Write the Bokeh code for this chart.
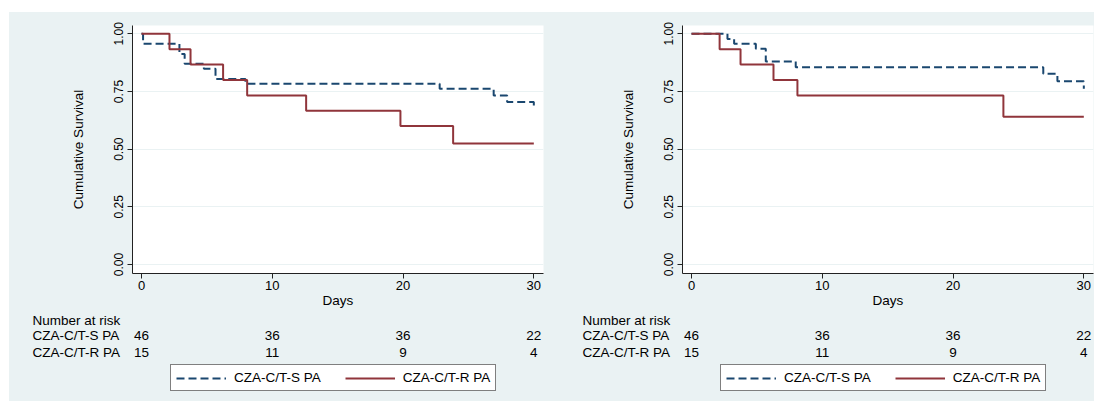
from bokeh.plotting import figure
from bokeh.layouts import row, column
from bokeh.models import Legend, LegendItem, FixedTicker, Range1d
from bokeh.core.properties import value
from bokeh.embed import file_html
from bokeh.resources import INLINE

# ---------------- data ----------------
group_names = ["CZA-C/T-S PA", "CZA-C/T-R PA"]
risk_title = "Number at risk"
risk_days = [0, 10, 20, 30]
risk_s = [46, 36, 36, 22]
risk_r = [15, 11, 9, 4]
x_ticks = [0, 10, 20, 30]
y_ticks = [0, 0.25, 0.5, 0.75, 1.0]
y_tick_labels = ["0.00", "0.25", "0.50", "0.75", "1.00"]
x_title = "Days"
y_title = "Cumulative Survival"

# left panel
left_s_days = [0, 0.12, 2.9, 3.3, 4.77, 5.66, 7.95, 22.8, 26.93, 27.96, 30]
left_s_surv = [1.0, 0.957, 0.913, 0.870, 0.848, 0.804, 0.783, 0.762, 0.733, 0.704, 0.675]
left_r_days = [0, 2.14, 3.75, 6.24, 8.08, 12.59, 19.8, 23.83, 30]
left_r_surv = [1.0, 0.933, 0.867, 0.800, 0.733, 0.667, 0.600, 0.525, 0.525]

# right panel
right_s_days = [0, 2.75, 3.26, 4.92, 5.68, 7.97, 26.9, 27.98, 30]
right_s_surv = [1.0, 0.978, 0.957, 0.935, 0.880, 0.855, 0.827, 0.794, 0.762]
right_r_days = [0, 2.15, 3.75, 6.27, 8.1, 23.85, 30]
right_r_surv = [1.0, 0.933, 0.867, 0.800, 0.733, 0.641, 0.641]

# ---------------- style ----------------
BG = "#eaf2f3"
NAVY = "#1a476f"
MAROON = "#90353b"
FONT = "Liberation Sans"
X0, X1 = -0.688, 30.74
Y0, Y1 = -0.039, 1.036
FRAME_W, FRAME_H = 411, 248
PAD_LEFT = 9           # pixels between frame left and day 0
PX_PER_DAY = FRAME_W / (X1 - X0)
TOP_BORDER, BOTTOM_BORDER = 13, 39
TOP_H = TOP_BORDER + FRAME_H + BOTTOM_BORDER
BOT_H = 89


def make_panel(s_days, s_surv, r_days, r_surv, width, border_left, legend_x):
    p = figure(width=width, height=TOP_H, output_backend="svg", toolbar_location=None,
               x_range=Range1d(X0, X1), y_range=Range1d(Y0, Y1),
               min_border_left=border_left, min_border_right=width - border_left - FRAME_W,
               min_border_top=TOP_BORDER, min_border_bottom=BOTTOM_BORDER,
               background_fill_color="white", border_fill_color=BG,
               outline_line_color=None)
    p.frame_align = False

    p.xgrid.visible = False
    p.ygrid.grid_line_color = BG
    p.ygrid.grid_line_width = 1
    p.ygrid.ticker = FixedTicker(ticks=y_ticks)

    for ax in (p.xaxis[0], p.yaxis[0]):
        ax.axis_line_color = "#222222"
        ax.axis_line_width = 1
        ax.major_tick_line_color = "#222222"
        ax.major_tick_out = 5
        ax.major_tick_in = 0
        ax.minor_tick_line_color = None
        ax.major_label_text_font = FONT
        ax.major_label_text_color = "black"
        ax.axis_label_text_font = FONT
        ax.axis_label_text_font_style = "normal"
        ax.axis_label_text_font_size = "13.5px"
        ax.axis_label_text_color = "black"

    p.xaxis.ticker = FixedTicker(ticks=x_ticks)
    p.xaxis.major_label_text_font_size = "13px"
    p.xaxis.major_label_standoff = 2
    p.xaxis.axis_label = x_title
    p.xaxis.axis_label_standoff = 0

    p.yaxis.ticker = FixedTicker(ticks=y_ticks)
    p.yaxis.major_label_overrides = {t: l for t, l in zip(y_ticks, y_tick_labels)}
    p.yaxis.major_label_orientation = "parallel"
    p.yaxis.major_label_text_font_size = "12px"
    p.yaxis.major_label_standoff = 4
    p.yaxis.axis_label = y_title
    p.yaxis.axis_label_standoff = 26

    p.step(s_days, s_surv, mode="after", line_color=NAVY, line_width=2, line_dash="8 4")
    p.step(r_days, r_surv, mode="after", line_color=MAROON, line_width=2)

    # ---- number-at-risk table + legend (same day-to-pixel mapping) ----
    day0_px = border_left + PAD_LEFT
    xs, xe = -day0_px / PX_PER_DAY, (width - day0_px) / PX_PER_DAY
    b = figure(width=width, height=BOT_H, output_backend="svg", toolbar_location=None,
               x_range=Range1d(xs, xe), y_range=Range1d(BOT_H, 0),
               x_axis_location=None, y_axis_location=None,
               min_border=0, min_border_left=0, min_border_right=0,
               min_border_top=0, min_border_bottom=0,
               background_fill_color=BG, border_fill_color=BG, outline_line_color=None)
    b.frame_align = False
    b.grid.visible = False

    label_x = -109 / PX_PER_DAY
    names_y = [8, 23, 39.5]
    names_t = [risk_title] + group_names
    b.text(x=[label_x] * 3, y=names_y, text=names_t, text_font=value(FONT),
           text_font_size="13.5px", text_baseline="middle", text_align="left",
           text_color="black")

    nx, ny, nt = [], [], []
    for yy, counts in zip(names_y[1:], [risk_s, risk_r]):
        for d, c in zip(risk_days, counts):
            nx.append(d)
            ny.append(yy)
            nt.append(str(c))
    b.text(x=nx, y=ny, text=nt, text_font=value(FONT), text_font_size="13.5px",
           text_baseline="middle", text_align="center", text_color="black")

    # legend key renderers (kept outside the visible range)
    far = xs - 100
    ls = b.line(x=[far, far - 1], y=[-50, -50], line_color=NAVY, line_width=2,
                line_dash="8 4")
    lr = b.line(x=[far, far - 1], y=[-50, -50], line_color=MAROON, line_width=2)
    legend = Legend(items=[LegendItem(label=group_names[0], renderers=[ls]),
                           LegendItem(label=group_names[1], renderers=[lr])],
                    location=(legend_x, 10), orientation="horizontal",
                    border_line_color="black", border_line_width=1,
                    background_fill_color="white", background_fill_alpha=1,
                    label_text_font=FONT, label_text_font_size="13.5px",
                    label_text_color="black",
                    glyph_width=50, glyph_height=14, label_height=14,
                    label_standoff=8, spacing=24, padding=5, margin=0)
    b.add_layout(legend)
    return column(p, b, spacing=0)


c1 = make_panel(left_s_days, left_s_surv, left_r_days, left_r_surv,
                width=541, border_left=123, legend_x=161)
c2 = make_panel(right_s_days, right_s_surv, right_r_days, right_r_surv,
                width=544, border_left=132, legend_x=170)

layout = row(c1, c2, spacing=0)
layout.margin = (12, 0, 0, 9)
layout.styles = {"background-color": BG}

open("out.html", "w").write(file_html(layout, INLINE))
